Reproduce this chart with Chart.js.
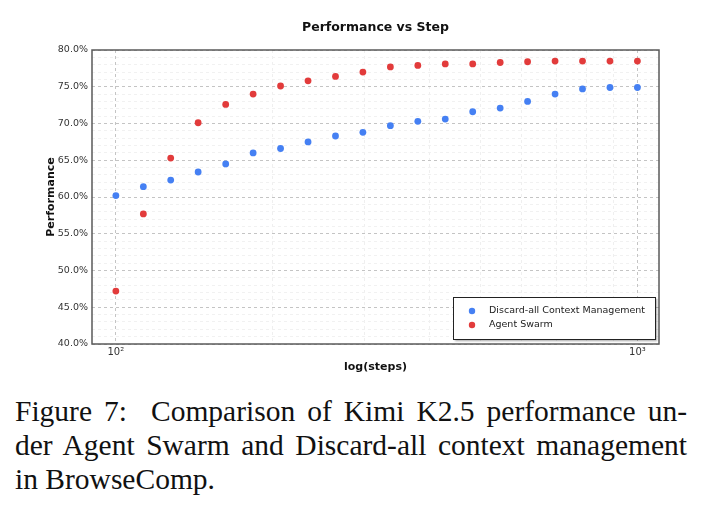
<!DOCTYPE html>
<html>
<head>
<meta charset="utf-8">
<script src="https://cdn.jsdelivr.net/npm/chart.js@4.4.1/dist/chart.umd.min.js"></script>
<style>
  html, body { margin: 0; padding: 0; background: #fff; }
  body { width: 704px; height: 510px; position: relative; overflow: hidden; }
  #wrap { position: absolute; left: 0; top: 0; width: 704px; height: 385px; }
  #caption {
    position: absolute; left: 15px; top: 394px; width: 672px;
    font-family: "Liberation Serif", "Times New Roman", serif;
    font-size: 29.5px; line-height: 34px; color: #111;
  }
  #caption div { text-align: justify; text-align-last: justify; white-space: nowrap; }
  #caption div.last { text-align-last: left; }
</style>
</head>
<body>
<div id="wrap"><canvas id="chart" width="704" height="385"></canvas></div>
<div id="caption">
  <div>Figure 7:&nbsp; Comparison of Kimi K2.5 performance un-</div>
  <div>der Agent Swarm and Discard-all context management</div>
  <div class="last">in BrowseComp.</div>
</div>
<script>
  // steps (log spaced between 10^2 and 10^3)
  const steps = [100, 112.9, 127.4, 143.8, 162.4, 183.3, 206.9, 233.6, 263.7, 297.6,
                 336.0, 379.3, 428.1, 483.3, 545.6, 615.8, 695.2, 784.8, 885.9, 1000];
  const discardAll = [60.2, 61.4, 62.3, 63.4, 64.5, 66.0, 66.6, 67.5, 68.3, 68.8,
                      69.7, 70.3, 70.6, 71.6, 72.1, 73.0, 74.0, 74.7, 74.9, 74.9];
  const agentSwarm = [47.2, 57.7, 65.3, 70.1, 72.6, 74.0, 75.1, 75.8, 76.4, 77.0,
                      77.7, 77.9, 78.1, 78.1, 78.3, 78.4, 78.5, 78.5, 78.5, 78.5];
  const seriesNames = ['Discard-all Context Management', 'Agent Swarm'];
  const seriesColors = ['#4580f3', '#e23b3b'];
  const xTicks = [100, 200, 300, 400, 500, 600, 700, 800, 900, 1000];
  const xTickLabels = { 100: '10²', 1000: '10³' };

  const toPoints = (ys) => ys.map((y, i) => ({ x: steps[i], y: y }));

  // frame around the plot + legend box inside it
  const framePlugin = {
    id: 'frame',
    afterDraw(chart) {
      const { ctx, chartArea: a } = chart;
      ctx.save();
      ctx.strokeStyle = '#5a5a5a';
      ctx.lineWidth = 1.5;
      ctx.strokeRect(a.left, a.top, a.right - a.left, a.bottom - a.top);

      // legend
      const bx = 453, by = 297, bw = 202, bh = 42;
      ctx.shadowColor = 'rgba(0,0,0,0.35)';
      ctx.shadowOffsetX = 2;
      ctx.shadowOffsetY = 2;
      ctx.shadowBlur = 2;
      ctx.fillStyle = '#fff';
      ctx.fillRect(bx, by, bw, bh);
      ctx.shadowColor = 'transparent';
      ctx.strokeStyle = '#222';
      ctx.lineWidth = 1;
      ctx.strokeRect(bx + 0.5, by + 0.5, bw, bh);
      ctx.font = '9.5px "DejaVu Sans"';
      ctx.textBaseline = 'middle';
      seriesNames.forEach((name, i) => {
        const y = by + 14 + i * 14;
        ctx.fillStyle = seriesColors[i];
        ctx.beginPath();
        ctx.arc(bx + 19, y, 3.2, 0, Math.PI * 2);
        ctx.fill();
        ctx.fillStyle = '#222';
        ctx.fillText(name, bx + 36, y);
      });
      ctx.restore();
    }
  };

  new Chart(document.getElementById('chart'), {
    type: 'scatter',
    data: {
      datasets: [{
        label: seriesNames[0],
        data: toPoints(discardAll),
        backgroundColor: seriesColors[0],
        borderWidth: 0,
        pointRadius: 3.4
      }, {
        label: seriesNames[1],
        data: toPoints(agentSwarm),
        backgroundColor: seriesColors[1],
        borderWidth: 0,
        pointRadius: 3.4
      }]
    },
    options: {
      responsive: false,
      animation: false,
      layout: { padding: { left: 38, right: 45, top: 0, bottom: 0 } },
      plugins: {
        legend: { display: false },
        tooltip: { enabled: false },
        title: {
          display: true,
          text: 'Performance vs Step',
          fullSize: false,
          color: '#111',
          font: { family: 'DejaVu Sans', size: 12.5, weight: 'bold' },
          padding: { top: 20, bottom: 15 }
        }
      },
      scales: {
        x: {
          type: 'logarithmic',
          min: 90,
          max: 1100,
          afterBuildTicks: (scale) => { scale.ticks = xTicks.map(v => ({ value: v })); },
          afterFit: (scale) => { scale.height = 41; },
          ticks: {
            autoSkip: false,
            maxRotation: 0,
            padding: 2,
            color: '#333',
            font: { family: 'DejaVu Sans', size: 10 },
            callback: (v) => xTickLabels[v] || ''
          },
          grid: {
            drawTicks: false,
            lineWidth: 1,
            color: (c) => (c.tick && xTickLabels[c.tick.value]) ? '#c4c4c4' : '#efefef'
          },
          border: { display: false, dash: [3, 3] },
          title: {
            display: true,
            text: 'log(steps)',
            color: '#111',
            font: { family: 'DejaVu Sans', size: 11, weight: 'bold' },
            padding: { top: 0, bottom: 11 }
          }
        },
        y: {
          min: 40,
          max: 80,
          afterBuildTicks: (scale) => {
            const t = [];
            for (let v = 40; v <= 80; v++) t.push({ value: v });
            scale.ticks = t;
          },
          afterFit: (scale) => { scale.width = 54; },
          ticks: {
            autoSkip: false,
            padding: 4,
            color: '#333',
            font: { family: 'DejaVu Sans', size: 9.5 },
            callback: (v) => (v % 5 === 0) ? v.toFixed(1) + '%' : ''
          },
          grid: {
            drawTicks: false,
            lineWidth: 1,
            color: (c) => (c.tick && c.tick.value % 5 === 0) ? '#c4c4c4' : '#f1f1f1'
          },
          border: { display: false, dash: [3, 3] },
          title: {
            display: true,
            text: 'Performance',
            color: '#111',
            font: { family: 'DejaVu Sans', size: 11, weight: 'bold' },
            padding: { top: 7, bottom: 0 }
          }
        }
      }
    },
    plugins: [framePlugin]
  });
</script>
</body>
</html>
